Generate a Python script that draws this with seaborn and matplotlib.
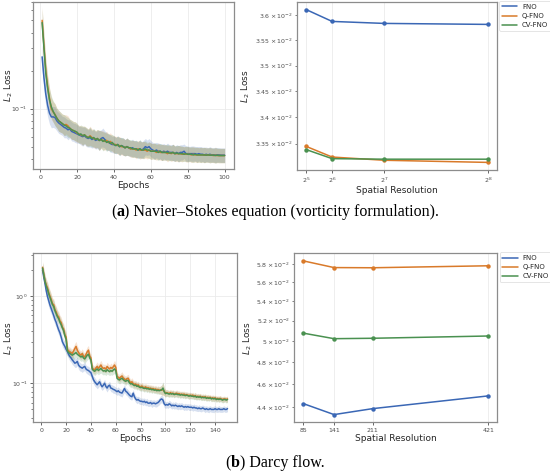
import numpy as np
import pandas as pd
import matplotlib
matplotlib.use("Agg")
import matplotlib.pyplot as plt
import seaborn as sns
from matplotlib.lines import Line2D
from matplotlib.offsetbox import TextArea, HPacker, AnnotationBbox

models = ["FNO", "Q-FNO", "CV-FNO"]

# --- (a) Navier-Stokes : training curves (100 epochs) ---
ns_fno = [0.257, 0.175, 0.130, 0.106, 0.092, 0.086, 0.086, 0.085, 0.080, 0.077,
          0.075, 0.073, 0.071, 0.070, 0.068, 0.069, 0.066, 0.065, 0.064, 0.063,
          0.062, 0.061, 0.060, 0.061, 0.059, 0.058, 0.059, 0.057, 0.058, 0.056,
          0.057, 0.056, 0.058, 0.059, 0.057, 0.055, 0.054, 0.053, 0.052, 0.052,
          0.051, 0.052, 0.050, 0.051, 0.050, 0.049, 0.050, 0.049, 0.048, 0.049,
          0.048, 0.048, 0.047, 0.048, 0.047, 0.048, 0.050, 0.049, 0.050, 0.048,
          0.047, 0.046, 0.047, 0.046, 0.046, 0.045, 0.046, 0.045, 0.046, 0.045,
          0.045, 0.045, 0.044, 0.045, 0.044, 0.045, 0.045, 0.046, 0.044, 0.044,
          0.044, 0.044, 0.044, 0.044, 0.0435, 0.044, 0.0435, 0.0435, 0.043, 0.0435,
          0.043, 0.0435, 0.043, 0.043, 0.043, 0.043, 0.043, 0.0428, 0.0428, 0.0428]
ns_q = [0.50, 0.31, 0.20, 0.150, 0.120, 0.100, 0.094, 0.090, 0.084, 0.080,
        0.078, 0.076, 0.074, 0.075, 0.073, 0.070, 0.068, 0.067, 0.066, 0.064,
        0.063, 0.062, 0.061, 0.062, 0.060, 0.059, 0.061, 0.059, 0.058, 0.057,
        0.058, 0.056, 0.057, 0.056, 0.055, 0.056, 0.054, 0.055, 0.053, 0.052,
        0.052, 0.051, 0.051, 0.050, 0.050, 0.049, 0.050, 0.049, 0.048, 0.048,
        0.048, 0.047, 0.048, 0.047, 0.047, 0.047, 0.047, 0.046, 0.047, 0.046,
        0.046, 0.046, 0.045, 0.046, 0.045, 0.045, 0.045, 0.045, 0.044, 0.045,
        0.044, 0.045, 0.044, 0.044, 0.044, 0.044, 0.0435, 0.044, 0.0435, 0.0435,
        0.0435, 0.043, 0.0435, 0.043, 0.043, 0.043, 0.043, 0.043, 0.0428, 0.043,
        0.0428, 0.0428, 0.0428, 0.0425, 0.0428, 0.0425, 0.0425, 0.0425, 0.0425, 0.0425]
ns_cv = [0.48, 0.30, 0.19, 0.145, 0.118, 0.103, 0.095, 0.089, 0.084, 0.080,
         0.078, 0.076, 0.074, 0.073, 0.071, 0.070, 0.068, 0.067, 0.066, 0.065,
         0.062, 0.063, 0.061, 0.062, 0.060, 0.059, 0.060, 0.058, 0.059, 0.057,
         0.058, 0.056, 0.057, 0.055, 0.056, 0.054, 0.055, 0.053, 0.054, 0.052,
         0.051, 0.052, 0.050, 0.051, 0.050, 0.049, 0.050, 0.049, 0.049, 0.048,
         0.048, 0.048, 0.047, 0.048, 0.047, 0.047, 0.048, 0.047, 0.047, 0.046,
         0.046, 0.046, 0.046, 0.045, 0.046, 0.045, 0.045, 0.045, 0.045, 0.0445,
         0.0445, 0.045, 0.044, 0.0445, 0.044, 0.044, 0.044, 0.0435, 0.044, 0.0435,
         0.0435, 0.0435, 0.043, 0.0435, 0.043, 0.043, 0.043, 0.043, 0.043, 0.0428,
         0.043, 0.0428, 0.0428, 0.0428, 0.0425, 0.0428, 0.0425, 0.0425, 0.0425, 0.0425]
# relative spread of the shaded band (same for the three models)
ns_spread = [0.28, 0.27, 0.25, 0.23, 0.22, 0.22, 0.21, 0.22, 0.20, 0.21,
             0.20, 0.19, 0.21, 0.19, 0.20, 0.18, 0.19, 0.18, 0.19, 0.18,
             0.17, 0.18, 0.19, 0.17, 0.18, 0.17, 0.19, 0.17, 0.18, 0.17,
             0.18, 0.20, 0.17, 0.19, 0.17, 0.18, 0.16, 0.17, 0.16, 0.17,
             0.16, 0.17, 0.18, 0.16, 0.17, 0.16, 0.17, 0.16, 0.16, 0.17,
             0.16, 0.17, 0.16, 0.18, 0.16, 0.17, 0.16, 0.15, 0.16, 0.16,
             0.15, 0.16, 0.15, 0.16, 0.15, 0.16, 0.15, 0.15, 0.16, 0.15,
             0.15, 0.16, 0.15, 0.15, 0.16, 0.15, 0.15, 0.14, 0.15, 0.15,
             0.14, 0.15, 0.15, 0.14, 0.15, 0.14, 0.15, 0.14, 0.15, 0.14,
             0.14, 0.15, 0.14, 0.14, 0.15, 0.14, 0.14, 0.14, 0.14, 0.14]

# --- (a) Navier-Stokes : test loss vs resolution ---
ns_res = [32, 64, 128, 256]
ns_res_labels = ["$2^5$", "$2^6$", "$2^7$", "$2^8$"]
ns_res_fno = [3.612e-2, 3.588e-2, 3.584e-2, 3.582e-2]
ns_res_q = [3.345e-2, 3.325e-2, 3.319e-2, 3.315e-2]
ns_res_cv = [3.339e-2, 3.322e-2, 3.321e-2, 3.321e-2]

# --- (b) Darcy : training curves (150 epochs) ---
darcy_fno = [2.00, 1.65, 1.40, 1.15, 0.99, 0.88, 0.79, 0.72, 0.66, 0.60,
             0.54, 0.50, 0.45, 0.41, 0.38, 0.34, 0.30, 0.28, 0.265, 0.245,
             0.232, 0.215, 0.203, 0.195, 0.185, 0.178, 0.170, 0.172, 0.178, 0.162,
             0.155, 0.152, 0.149, 0.153, 0.156, 0.146, 0.142, 0.140, 0.136, 0.132,
             0.120, 0.110, 0.104, 0.100, 0.096, 0.100, 0.104, 0.096, 0.091, 0.095,
             0.100, 0.092, 0.088, 0.093, 0.095, 0.088, 0.087, 0.085, 0.084, 0.082,
             0.080, 0.082, 0.079, 0.078, 0.077, 0.082, 0.087, 0.081, 0.079, 0.076,
             0.073, 0.071, 0.070, 0.077, 0.070, 0.066, 0.064, 0.065, 0.063, 0.062,
             0.062, 0.061, 0.062, 0.060, 0.061, 0.059, 0.059, 0.060, 0.058, 0.059,
             0.059, 0.058, 0.059, 0.060, 0.062, 0.065, 0.066, 0.064, 0.058, 0.056,
             0.057, 0.056, 0.058, 0.057, 0.055, 0.056, 0.055, 0.056, 0.055, 0.054,
             0.055, 0.054, 0.055, 0.054, 0.053, 0.054, 0.053, 0.054, 0.053, 0.053,
             0.053, 0.052, 0.053, 0.052, 0.052, 0.051, 0.052, 0.051, 0.051, 0.052,
             0.051, 0.050, 0.051, 0.050, 0.050, 0.051, 0.050, 0.050, 0.050, 0.051,
             0.050, 0.050, 0.051, 0.050, 0.050, 0.050, 0.051, 0.050, 0.050, 0.051]
darcy_q = [2.15, 1.80, 1.50, 1.35, 1.25, 1.10, 1.00, 0.92, 0.82, 0.80,
           0.70, 0.66, 0.60, 0.58, 0.52, 0.50, 0.44, 0.42, 0.36, 0.34,
           0.245, 0.235, 0.23, 0.225, 0.22, 0.235, 0.25, 0.265, 0.24, 0.225,
           0.215, 0.21, 0.22, 0.205, 0.20, 0.215, 0.23, 0.24, 0.205, 0.195,
           0.150, 0.145, 0.142, 0.150, 0.156, 0.148, 0.155, 0.162, 0.152, 0.148,
           0.150, 0.145, 0.156, 0.150, 0.146, 0.152, 0.148, 0.155, 0.162, 0.152,
           0.120, 0.117, 0.114, 0.118, 0.121, 0.115, 0.112, 0.109, 0.113, 0.114,
           0.106, 0.101, 0.104, 0.099, 0.097, 0.098, 0.094, 0.096, 0.092, 0.091,
           0.093, 0.090, 0.089, 0.091, 0.088, 0.089, 0.087, 0.088, 0.086, 0.087,
           0.085, 0.086, 0.084, 0.085, 0.083, 0.084, 0.083, 0.085, 0.081, 0.077,
           0.078, 0.077, 0.076, 0.078, 0.076, 0.077, 0.075, 0.076, 0.077, 0.075,
           0.076, 0.074, 0.075, 0.074, 0.075, 0.073, 0.074, 0.073, 0.072, 0.073,
           0.072, 0.073, 0.071, 0.072, 0.070, 0.071, 0.070, 0.071, 0.069, 0.070,
           0.069, 0.070, 0.068, 0.069, 0.068, 0.069, 0.067, 0.068, 0.067, 0.068,
           0.066, 0.067, 0.066, 0.067, 0.066, 0.065, 0.066, 0.066, 0.065, 0.066]
darcy_cv = [2.10, 1.75, 1.48, 1.30, 1.20, 1.06, 0.97, 0.88, 0.80, 0.76,
            0.68, 0.63, 0.58, 0.55, 0.50, 0.47, 0.43, 0.40, 0.35, 0.32,
            0.235, 0.225, 0.22, 0.215, 0.21, 0.215, 0.22, 0.225, 0.215, 0.21,
            0.205, 0.20, 0.205, 0.195, 0.19, 0.20, 0.21, 0.215, 0.195, 0.185,
            0.145, 0.14, 0.137, 0.142, 0.146, 0.140, 0.144, 0.148, 0.142, 0.138,
            0.140, 0.136, 0.143, 0.139, 0.136, 0.140, 0.137, 0.142, 0.146, 0.140,
            0.114, 0.111, 0.109, 0.112, 0.114, 0.110, 0.107, 0.105, 0.108, 0.107,
            0.101, 0.098, 0.099, 0.096, 0.094, 0.095, 0.092, 0.093, 0.090, 0.089,
            0.090, 0.088, 0.087, 0.088, 0.086, 0.087, 0.085, 0.086, 0.084, 0.085,
            0.083, 0.084, 0.082, 0.083, 0.082, 0.083, 0.084, 0.088, 0.080, 0.076,
            0.077, 0.076, 0.075, 0.076, 0.075, 0.076, 0.074, 0.075, 0.075, 0.074,
            0.074, 0.073, 0.074, 0.073, 0.073, 0.072, 0.073, 0.072, 0.071, 0.072,
            0.071, 0.071, 0.070, 0.071, 0.069, 0.070, 0.069, 0.070, 0.068, 0.069,
            0.068, 0.069, 0.067, 0.068, 0.067, 0.068, 0.066, 0.067, 0.066, 0.067,
            0.065, 0.066, 0.065, 0.066, 0.065, 0.064, 0.065, 0.065, 0.064, 0.065]
darcy_spread_fno = [0.14, 0.15, 0.16, 0.17, 0.16, 0.17, 0.16, 0.15, 0.16, 0.15,
                    0.15, 0.14, 0.15, 0.14, 0.14, 0.15, 0.14, 0.13, 0.14, 0.13,
                    0.13, 0.12, 0.13, 0.12, 0.13, 0.12, 0.12, 0.13, 0.12, 0.12,
                    0.12, 0.11, 0.12, 0.11, 0.12, 0.11, 0.11, 0.12, 0.11, 0.11,
                    0.12, 0.11, 0.12, 0.11, 0.11, 0.12, 0.11, 0.11, 0.10, 0.11,
                    0.11, 0.10, 0.11, 0.10, 0.11, 0.10, 0.10, 0.11, 0.10, 0.10,
                    0.10, 0.11, 0.10, 0.10, 0.11, 0.10, 0.11, 0.10, 0.10, 0.10,
                    0.10, 0.10, 0.09, 0.10, 0.10, 0.09, 0.10, 0.09, 0.10, 0.09,
                    0.09, 0.10, 0.09, 0.09, 0.10, 0.09, 0.09, 0.09, 0.10, 0.09,
                    0.09, 0.09, 0.10, 0.09, 0.10, 0.10, 0.11, 0.10, 0.10, 0.09,
                    0.09, 0.09, 0.10, 0.09, 0.09, 0.09, 0.09, 0.10, 0.09, 0.09,
                    0.09, 0.09, 0.09, 0.08, 0.09, 0.09, 0.09, 0.08, 0.09, 0.09,
                    0.08, 0.09, 0.09, 0.08, 0.09, 0.08, 0.09, 0.08, 0.09, 0.08,
                    0.08, 0.09, 0.08, 0.08, 0.09, 0.08, 0.08, 0.08, 0.09, 0.08,
                    0.08, 0.08, 0.09, 0.08, 0.08, 0.08, 0.08, 0.08, 0.08, 0.08]
darcy_spread_q = [0.16, 0.17, 0.18, 0.17, 0.18, 0.17, 0.18, 0.17, 0.16, 0.17,
                  0.16, 0.17, 0.16, 0.15, 0.16, 0.15, 0.16, 0.15, 0.16, 0.15,
                  0.13, 0.12, 0.13, 0.12, 0.13, 0.14, 0.15, 0.14, 0.13, 0.12,
                  0.12, 0.12, 0.13, 0.12, 0.12, 0.13, 0.14, 0.13, 0.12, 0.12,
                  0.11, 0.11, 0.12, 0.12, 0.13, 0.12, 0.12, 0.13, 0.12, 0.11,
                  0.11, 0.11, 0.12, 0.11, 0.11, 0.12, 0.11, 0.12, 0.13, 0.12,
                  0.11, 0.10, 0.11, 0.11, 0.12, 0.11, 0.10, 0.11, 0.10, 0.11,
                  0.10, 0.10, 0.11, 0.10, 0.10, 0.10, 0.10, 0.10, 0.09, 0.10,
                  0.10, 0.09, 0.10, 0.09, 0.10, 0.09, 0.10, 0.09, 0.10, 0.09,
                  0.09, 0.10, 0.09, 0.10, 0.10, 0.11, 0.14, 0.18, 0.12, 0.10,
                  0.09, 0.09, 0.09, 0.09, 0.09, 0.09, 0.09, 0.08, 0.09, 0.09,
                  0.08, 0.09, 0.08, 0.09, 0.08, 0.09, 0.08, 0.08, 0.09, 0.08,
                  0.08, 0.08, 0.08, 0.09, 0.08, 0.08, 0.08, 0.08, 0.08, 0.08,
                  0.08, 0.08, 0.08, 0.08, 0.08, 0.07, 0.08, 0.08, 0.08, 0.07,
                  0.08, 0.07, 0.08, 0.08, 0.07, 0.08, 0.08, 0.07, 0.08, 0.08]

# --- (b) Darcy : test loss vs resolution ---
darcy_res = [85, 141, 211, 421]
darcy_res_fno = [4.432e-2, 4.339e-2, 4.389e-2, 4.498e-2]
darcy_res_q = [5.834e-2, 5.759e-2, 5.757e-2, 5.779e-2]
darcy_res_cv = [5.076e-2, 5.022e-2, 5.026e-2, 5.048e-2]

sns.set_theme(style="whitegrid", rc={
    "axes.edgecolor": "0.55",
    "axes.linewidth": 0.9,
    "grid.color": "0.92",
    "grid.linewidth": 0.6,
    "xtick.bottom": True,
    "ytick.left": True,
    "xtick.color": "0.3",
    "ytick.color": "0.3",
    "xtick.major.size": 2.5,
    "ytick.major.size": 2.5,
    "ytick.minor.size": 1.5,
    "xtick.major.width": 0.6,
    "ytick.major.width": 0.6,
    "ytick.minor.width": 0.5,
    "xtick.major.pad": 1.5,
    "ytick.major.pad": 1.5,
    "ytick.minor.pad": 1.5,
    "xtick.labelsize": 4.5,
    "ytick.labelsize": 4.5,
    "axes.labelsize": 6.5,
    "axes.labelcolor": "0.15",
})
plt.rcParams["font.family"] = ["DejaVu Sans"]

palette = dict(zip(models, ["#3a67b5", "#d97a2a", "#4a9150"]))

fig = plt.figure(figsize=(5.5, 4.75), dpi=100)
ax_ns = fig.add_axes([0.060, 0.644, 0.365, 0.352])
ax_ns_res = fig.add_axes([0.540, 0.642, 0.364, 0.354])
ax_da = fig.add_axes([0.0605, 0.111, 0.370, 0.356])
ax_da_res = fig.add_axes([0.5345, 0.111, 0.370, 0.356])


def training_panel(ax, curves, spreads, ylim, label_x):
    for name, mean, spread in zip(models, curves, spreads):
        mean = np.asarray(mean)
        s = 1 + np.asarray(spread)
        ep = np.arange(1, len(mean) + 1)
        ax.fill_between(ep, mean / s, mean * s, color=palette[name],
                        alpha=0.2, linewidth=0)
        sns.lineplot(x=ep, y=mean, ax=ax, color=palette[name], linewidth=1.1)
    ax.set_yscale("log")
    ax.set_ylim(*ylim)
    ax.set_xlabel("Epochs", labelpad=1)
    ax.set_ylabel("$L_2$ Loss")
    ax.yaxis.set_label_coords(label_x, 0.5)
    ax.grid(True, which="major")


def resolution_panel(ax, res, curves, label_x):
    df = pd.DataFrame({
        "res": res * 3,
        "loss": np.concatenate(curves),
        "model": np.repeat(models, len(res)),
    })
    sns.lineplot(data=df, x="res", y="loss", hue="model", palette=palette,
                 marker="o", markersize=3.2, markeredgewidth=0, linewidth=1.1,
                 legend=False, ax=ax)
    ax.set_yscale("log")
    ax.set_xticks(res)
    ax.set_xlabel("Spatial Resolution", labelpad=1)
    ax.set_ylabel("$L_2$ Loss")
    ax.yaxis.set_label_coords(label_x, 0.5)
    handles = [Line2D([0], [0], color=palette[m], lw=1.1) for m in models]
    leg = ax.legend(handles, models, loc="upper left", bbox_to_anchor=(1.01, 1.005),
                    fontsize=5, frameon=True, handlelength=2.2, borderpad=0.4,
                    labelspacing=0.45, handletextpad=0.7, borderaxespad=0)
    leg.get_frame().set_edgecolor("0.85")
    leg.get_frame().set_linewidth(0.6)


training_panel(ax_ns, [ns_fno, ns_q, ns_cv], [ns_spread] * 3, (0.0332, 0.70), -0.092)
training_panel(ax_da, [darcy_fno, darcy_q, darcy_cv],
               [darcy_spread_fno, darcy_spread_q, darcy_spread_q], (0.0356, 3.12), -0.09)
resolution_panel(ax_ns_res, ns_res, [ns_res_fno, ns_res_q, ns_res_cv], -0.225)
ax_ns_res.set_xticklabels(ns_res_labels)
resolution_panel(ax_da_res, darcy_res, [darcy_res_fno, darcy_res_q, darcy_res_cv], -0.197)


def caption(y, bold, rest):
    props = dict(family="Liberation Serif", size=11.5, color="black")
    box = HPacker(children=[TextArea("(", textprops=props),
                            TextArea(bold, textprops=dict(props, weight="bold")),
                            TextArea(") " + rest, textprops=props)],
                  pad=0, sep=0, align="baseline")
    fig.add_artist(AnnotationBbox(box, (0.5, y), xycoords="figure fraction",
                                  frameon=False, box_alignment=(0.5, 0.5), pad=0))


caption(1 - 212 / 475, "a", "Navier–Stokes equation (vorticity formulation).")
caption(1 - 463 / 475, "b", "Darcy flow.")

fig.savefig("out.png", dpi=100)
